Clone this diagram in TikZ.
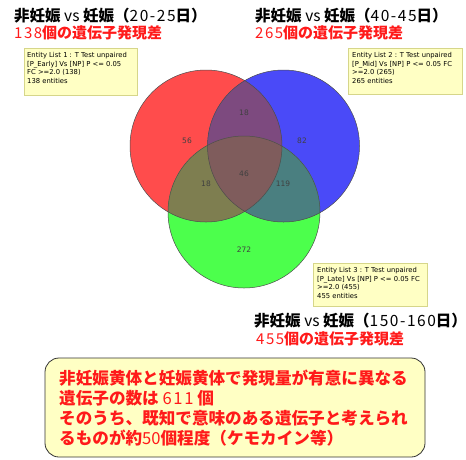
\documentclass[tikz,border=0pt]{standalone}
\usepackage{fontspec}
\newfontfamily\jp{Noto Sans CJK JP}
\newfontfamily\jpnum[LetterSpace=10]{Noto Sans CJK JP}
\newfontfamily\listfont{DejaVu Sans}
\definecolor{vred}{HTML}{FF4C4C}
\definecolor{vblue}{HTML}{4A4AF8}
\definecolor{vgreen}{HTML}{4CFF4C}
\definecolor{vpurple}{HTML}{7D4A7F}
\definecolor{volive}{HTML}{7E7E50}
\definecolor{vteal}{HTML}{4A7F80}
\definecolor{vbrown}{HTML}{7F5C5C}
\definecolor{notefill}{HTML}{FFFFC4}
\definecolor{noteline}{HTML}{D6D68A}
\definecolor{titlered}{HTML}{FF1A1A}
\tikzset{
  outline/.style={draw=black!70,line width=0.5pt},
  count/.style={font=\listfont\fontsize{7.5}{8}\selectfont,text=black!75},
  listbox/.style={draw=noteline,fill=notefill,line width=0.6pt},
  listtext/.style={anchor=north west,inner sep=0pt,align=left,
    font=\listfont\fontsize{6.8}{8.8}\selectfont},
  title/.style={anchor=west,inner sep=0pt,font=\jp\bfseries\fontsize{15.5}{16}\selectfont},
  subtitle/.style={title,text=titlered,font=\jp\bfseries\fontsize{15}{16}\selectfont},
}
\begin{document}
\begin{tikzpicture}[x=1pt,y=-1pt]
\useasboundingbox (0,0) rectangle (466,459);
\fill[white] (0,0) rectangle (466,459);
% circle centres
\coordinate (early) at (206,146);
\coordinate (mid) at (283.5,146);
\coordinate (late) at (244,212);
% plain circles
\fill[vred] (early) circle (76pt);
\fill[vblue] (mid) circle (76pt);
\fill[vgreen] (late) circle (76pt);
% overlaps
\begin{scope}
\clip (early) circle (76pt);
\fill[vpurple] (mid) circle (76pt);
\fill[volive] (late) circle (76pt);
\clip (mid) circle (76pt);
\fill[vbrown] (late) circle (76pt);
\end{scope}
\begin{scope}
\clip (mid) circle (76pt);
\clip (late) circle (76pt);
\fill[vteal] (early) circle (76pt) [even odd rule] (200,60) rectangle (380,300);
\end{scope}
\draw[outline] (early) circle (76pt);
\draw[outline] (mid) circle (76pt);
\draw[outline] (late) circle (76pt);
% counts
\node[count] (n56) at (187,141) {56};
\node[count] (n18a) at (244,113) {18};
\node[count] (n82) at (302,141) {82};
\node[count] (n46) at (244,174) {46};
\node[count] (n18b) at (206,184) {18};
\node[count] (n119) at (283,184) {119};
\node[count] (n272) at (244,250) {272};
% entity lists
\draw[listbox] (24,48) rectangle (137,95);
\node[listtext] (list1) at (27,52) {Entity List 1 : T Test unpaired\\{}[P\_Early] Vs [NP] P <= 0.05\\FC >=2.0 (138)\\138 entities};
\draw[listbox] (348,48) rectangle (462,94);
\node[listtext] (list2) at (352,52) {Entity List 2 : T Test unpaired\\{}[P\_Mid] Vs [NP] P <= 0.05 FC\\>=2.0 (265)\\265 entities};
\draw[listbox] (313,263) rectangle (427,306);
\node[listtext] (list3) at (317,267) {Entity List 3 : T Test unpaired\\{}[P\_Late] Vs [NP] P <= 0.05 FC\\>=2.0 (455)\\455 entities};
% titles
\node[title] (t1) at (14,16) {非妊娠 {\mdseries vs} 妊娠（{\jpnum\mdseries 20-25}日）};
\node[subtitle] (s1) at (14,33) {{\jpnum\mdseries 138}個の遺伝子発現差};
\node[title] (t2) at (255,16) {非妊娠 {\mdseries vs} 妊娠（{\jpnum\mdseries 40-45}日）};
\node[subtitle] (s2) at (255,33) {{\jpnum\mdseries 265}個の遺伝子発現差};
\node[title] (t3) at (254,321) {非妊娠 {\mdseries vs} 妊娠（{\jpnum\mdseries 150-160}日）};
\node[subtitle] (s3) at (256,339) {{\jpnum\mdseries 455}個の遺伝子発現差};
% summary
\draw[draw=black!80,fill=notefill,line width=0.8pt,rounded corners=14pt] (45,358) rectangle (425,457);
\node[anchor=north west,inner sep=0pt,align=left,text=titlered,
  font=\jp\bfseries\fontsize{16.6}{20}\selectfont] (summary) at (59,370)
  {非妊娠黄体と妊娠黄体で発現量が有意に異なる\\遺伝子の数は {\jpnum\mdseries 611} 個\\そのうち、既知で意味のある遺伝子と考えられ\\るものが約{\mdseries 50}個程度（ケモカイン等）};
\end{tikzpicture}
\end{document}
